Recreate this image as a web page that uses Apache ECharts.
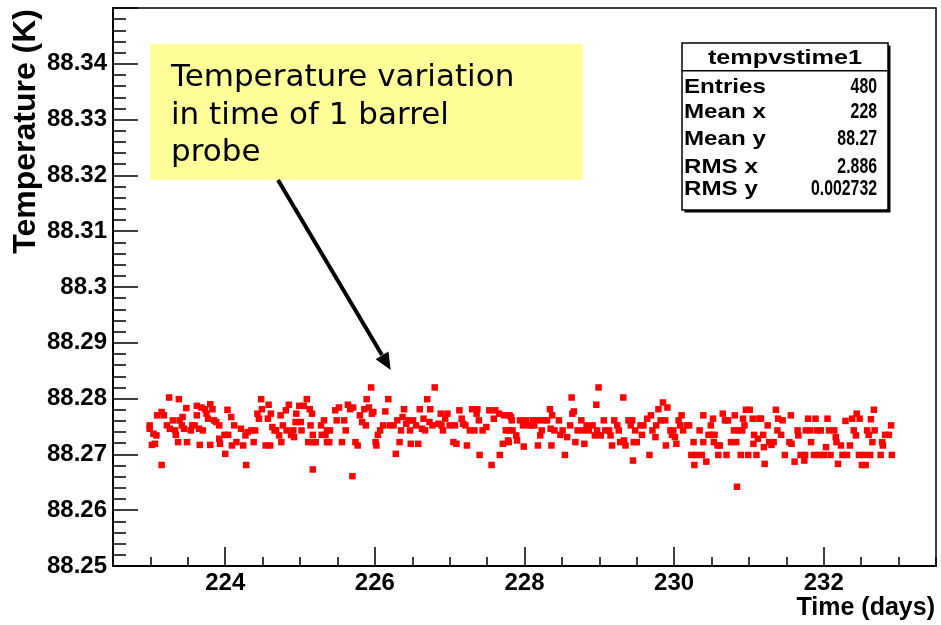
<!DOCTYPE html>
<html>
<head>
<meta charset="utf-8">
<title>tempvstime1</title>
<script src="https://cdn.jsdelivr.net/npm/echarts@6/dist/echarts.min.js"></script>
<style>
html,body{margin:0;padding:0;background:#fff;}
#chart{width:941px;height:625px;}
</style>
</head>
<body>
<div id="chart"></div>
<script>
// x labels / stats box text
var xLabelDays = [224, 226, 228, 230, 232];
var statsTitle = 'tempvstime1';
var statsNames = ['Entries', 'Mean x', 'Mean y', 'RMS x', 'RMS y'];
var statsValues = ['480', '228', '88.27', '2.886', '0.002732'];
var noteLines = ['Temperature variation', 'in time of 1 barrel', 'probe'];

// [time (days), temperature (K)], 4 pieces left to right
var pts223 = [
	[222.99,88.2752],[222.99,88.2746],[223.02,88.2717],[223.04,88.2737],[223.06,88.2719],[223.08,88.2734],
	[223.09,88.2770],[223.15,88.2776],[223.15,88.2681],[223.18,88.2770],[223.22,88.2752],[223.25,88.2802],
	[223.26,88.2746],[223.30,88.2761],[223.33,88.2743],[223.34,88.2735],[223.37,88.2722],[223.38,88.2799],
	[223.39,88.2761],[223.42,88.2752],[223.43,88.2767],[223.45,88.2746],[223.48,88.2783],[223.49,88.2722],
	[223.54,88.2743],[223.56,88.2752],[223.59,88.2752],[223.62,88.2787],[223.62,88.2770],[223.65,88.2746],
	[223.66,88.2717],[223.68,88.2784],[223.70,88.2743],[223.73,88.2781],[223.75,88.2773],[223.77,88.2764],
	[223.80,88.2790],[223.80,88.2717],[223.83,88.2781],[223.85,88.2761],[223.88,88.2758],[223.92,88.2752],
	[223.92,88.2728],[223.93,88.2719],[223.99,88.2735],[224.00,88.2701],[224.03,88.2780],[224.04,88.2735],
	[224.08,88.2767],[224.09,88.2716],[224.12,88.2752],[224.15,88.2722],[224.21,88.2746],[224.24,88.2716],
	[224.27,88.2734],[224.28,88.2681],[224.30,88.2740],[224.35,88.2743],[224.38,88.2722],[224.40,88.2743],
	[224.43,88.2773],[224.45,88.2764],[224.48,88.2799],[224.49,88.2781],[224.54,88.2716],[224.57,88.2764],
	[224.58,88.2789],[224.60,88.2716],[224.61,88.2773],[224.63,88.2749],[224.66,88.2743],[224.68,88.2743],
	[224.72,88.2734],[224.74,88.2770],[224.75,88.2722],[224.77,88.2752],[224.81,88.2779],[224.82,88.2743],
	[224.85,88.2789],[224.88,88.2735],[224.91,88.2743],[224.92,88.2731],[224.94,88.2758],[224.95,88.2773],
	[224.99,88.2787],[225.01,88.2758],[225.02,88.2743],[225.05,88.2787],[225.09,88.2799],[225.11,88.2722],
	[225.13,88.2781],[225.14,88.2752],[225.16,88.2773],[225.17,88.2735],[225.18,88.2722],[225.17,88.2673],
	[225.21,88.2722],[225.28,88.2752],[225.29,88.2735],[225.32,88.2761],[225.34,88.2735],[225.36,88.2722]
];
var pts225 = [
	[225.36,88.2743],[225.40,88.2743],[225.39,88.2722],[225.47,88.2779],[225.49,88.2761],[225.52,88.2784],
	[225.56,88.2722],[225.59,88.2761],[225.61,88.2743],[225.64,88.2789],[225.67,88.2781],[225.71,88.2784],
	[225.70,88.2661],[225.74,88.2722],[225.77,88.2716],[225.80,88.2770],[225.83,88.2758],[225.86,88.2781],
	[225.89,88.2799],[225.88,88.2752],[225.92,88.2784],[225.95,88.2820],[225.96,88.2773],[225.98,88.2776],
	[226.01,88.2722],[226.02,88.2716],[226.04,88.2735],[226.07,88.2743],[226.11,88.2752],[226.14,88.2777],
	[226.18,88.2799],[226.20,88.2752],[226.25,88.2752],[226.28,88.2701],[226.30,88.2761],[226.33,88.2722],
	[226.35,88.2743],[226.37,88.2767],[226.39,88.2781],[226.42,88.2755],[226.45,88.2761],[226.48,88.2719],
	[226.47,88.2743],[226.51,88.2761],[226.55,88.2752],[226.58,88.2719],[226.60,88.2781],[226.63,88.2746],
	[226.65,88.2764],[226.67,88.2743],[226.70,88.2799],[226.73,88.2758],[226.74,88.2781],[226.77,88.2752],
	[226.80,88.2820],[226.85,88.2755],[226.88,88.2773],[226.89,88.2752],[226.91,88.2743],[226.94,88.2764],
	[226.97,88.2773],[227.00,88.2752],[227.05,88.2722],[227.07,88.2752],[227.09,88.2719],[227.13,88.2779],
	[227.16,88.2764],[227.18,88.2755],[227.21,88.2752],[227.23,88.2716],[227.27,88.2743],[227.30,88.2781],
	[227.33,88.2743],[227.36,88.2773],[227.37,88.2781],[227.39,88.2761],[227.40,88.2699],[227.44,88.2743],
	[227.49,88.2749],[227.53,88.2779],[227.56,88.2681],[227.59,88.2764],[227.61,88.2779],[227.66,88.2773],
	[227.67,88.2699],[227.71,88.2719],[227.73,88.2770],[227.75,88.2743],[227.78,88.2725],[227.80,88.2743],
	[227.82,88.2767]
];
var pts228 = [
	[227.80,88.2770],[227.79,88.2722],[227.83,88.2761],[227.84,88.2743],[227.89,88.2734],[227.90,88.2725],
	[227.94,88.2761],[227.98,88.2752],[227.99,88.2714],[228.02,88.2761],[228.05,88.2752],[228.09,88.2752],
	[228.11,88.2761],[228.13,88.2752],[228.17,88.2761],[228.18,88.2716],[228.21,88.2734],[228.23,88.2743],
	[228.25,88.2761],[228.30,88.2761],[228.34,88.2781],[228.35,88.2746],[228.36,88.2716],[228.37,88.2770],
	[228.40,88.2743],[228.46,88.2761],[228.48,88.2735],[228.51,88.2743],[228.54,88.2699],[228.57,88.2731],
	[228.61,88.2752],[228.63,88.2802],[228.64,88.2773],[228.66,88.2777],[228.68,88.2722],[228.71,88.2743],
	[228.76,88.2761],[228.79,88.2743],[228.80,88.2719],[228.83,88.2752],[228.86,88.2743],[228.91,88.2752],
	[228.94,88.2734],[228.96,88.2789],[228.97,88.2743],[228.99,88.2820],[229.02,88.2734],[229.06,88.2761],
	[229.08,88.2743],[229.13,88.2743],[229.15,88.2734],[229.17,88.2716],[229.20,88.2761],[229.24,88.2752],
	[229.26,88.2743],[229.28,88.2722],[229.32,88.2802],[229.33,88.2725],[229.35,88.2716],[229.39,88.2761],
	[229.42,88.2752],[229.44,88.2761],[229.46,88.2722],[229.45,88.2689],[229.48,88.2743],[229.50,88.2722],
	[229.55,88.2752],[229.57,88.2735],[229.59,88.2752],[229.64,88.2764],[229.67,88.2699],[229.69,88.2770],
	[229.71,88.2743],[229.75,88.2731],[229.76,88.2752],[229.79,88.2781],[229.82,88.2761],[229.85,88.2793],
	[229.88,88.2761],[229.89,88.2716],[229.91,88.2784],[229.95,88.2743],[229.97,88.2735],[229.99,88.2743],
	[230.01,88.2731],[230.03,88.2719],[230.06,88.2761],[230.08,88.2752],[230.10,88.2770],[230.12,88.2743],
	[230.17,88.2752],[230.20,88.2752],[230.23,88.2699],[230.26,88.2722],[230.27,88.2681],[230.30,88.2699],
	[230.34,88.2743],[230.37,88.2699],[230.39,88.2722]
];
var pts230 = [
	[230.39,88.2770],[230.43,88.2687],[230.46,88.2735],[230.49,88.2752],[230.50,88.2735],[230.52,88.2764],
	[230.53,88.2722],[230.54,88.2735],[230.58,88.2716],[230.59,88.2699],[230.61,88.2716],[230.65,88.2773],
	[230.68,88.2761],[230.70,88.2699],[230.72,88.2761],[230.76,88.2722],[230.81,88.2770],[230.80,88.2743],
	[230.83,88.2722],[230.84,88.2642],[230.86,88.2743],[230.89,88.2699],[230.91,88.2743],[230.92,88.2764],
	[230.94,88.2752],[230.96,88.2780],[230.99,88.2699],[231.01,88.2780],[231.05,88.2764],[231.06,88.2719],
	[231.07,88.2735],[231.10,88.2699],[231.12,88.2728],[231.14,88.2764],[231.16,88.2764],[231.19,88.2735],
	[231.21,88.2683],[231.20,88.2713],[231.25,88.2752],[231.27,88.2722],[231.30,88.2717],[231.33,88.2722],
	[231.36,88.2780],[231.38,88.2743],[231.39,88.2764],[231.43,88.2735],[231.45,88.2761],[231.48,88.2699],
	[231.54,88.2722],[231.56,88.2770],[231.57,88.2719],[231.61,88.2687],[231.65,88.2743],[231.66,88.2734],
	[231.69,88.2699],[231.74,88.2689],[231.75,88.2699],[231.76,88.2743],[231.79,88.2764],[231.83,88.2722],
	[231.82,88.2743],[231.87,88.2699],[231.89,88.2764],[231.91,88.2743],[231.94,88.2699],[231.96,88.2743],
	[232.00,88.2699],[232.03,88.2713],[232.05,88.2764],[232.07,88.2743],[232.09,88.2699],[232.14,88.2743],
	[232.16,88.2731],[232.17,88.2722],[232.19,88.2683],[232.23,88.2716],[232.25,88.2699],[232.29,88.2760],
	[232.31,88.2699],[232.35,88.2716],[232.38,88.2764],[232.40,88.2743],[232.43,88.2734],[232.44,88.2773],
	[232.47,88.2699],[232.48,88.2764],[232.51,88.2681],[232.54,88.2699],[232.56,88.2681],[232.58,88.2743],
	[232.60,88.2735],[232.62,88.2699],[232.63,88.2763],[232.65,88.2722],[232.67,88.2780],[232.68,88.2743],
	[232.76,88.2699],[232.78,88.2722],[232.79,88.2716],[232.82,88.2735],[232.87,88.2735],[232.90,88.2752],
	[232.91,88.2699]
];

var FONT = 'Liberation Sans, Arial, sans-serif';

function buildGraphic(){
	var g = [];
	// yellow note + arrow
	g.push({type:'rect', shape:{x:150, y:44, width:433, height:136}, style:{fill:'#ffff99'}, z:10});
	var noteY = [78, 115.5, 153];
	for (var i = 0; i < noteLines.length; i++) {
		g.push({type:'text', x:171, y:noteY[i], z:11,
			style:{text:noteLines[i], fill:'#000', font:'31px "DejaVu Sans", Verdana, sans-serif', textAlign:'left', textVerticalAlign:'middle'}});
	}
	g.push({type:'line', shape:{x1:278, y1:180, x2:382, y2:355}, style:{stroke:'#000', lineWidth:4}, z:10});
	g.push({type:'polygon', shape:{points:[[390.7,370],[375.6,359.2],[388.5,351.6]]}, style:{fill:'#000'}, z:10});

	// stats box
	g.push({type:'rect', shape:{x:684.5, y:45.5, width:206, height:167}, style:{fill:'#000'}, z:10});
	g.push({type:'rect', shape:{x:682, y:43, width:206, height:167}, style:{fill:'#fff', stroke:'#000', lineWidth:1.5}, z:11});
	g.push({type:'line', shape:{x1:682, y1:70.7, x2:888, y2:70.7}, style:{stroke:'#000', lineWidth:1.5}, z:12});
	g.push({type:'text', x:785, y:58, scaleX:1.2, z:12,
		style:{text:statsTitle, fill:'#000', font:'bold 21px ' + FONT, textAlign:'center', textVerticalAlign:'middle'}});
	var rowY = [87, 112, 139, 167, 189];
	for (var j = 0; j < statsNames.length; j++) {
		g.push({type:'text', x:684, y:rowY[j], scaleX:1.15, z:12,
			style:{text:statsNames[j], fill:'#000', font:'bold 21px ' + FONT, textAlign:'left', textVerticalAlign:'middle'}});
		g.push({type:'text', x:877, y:rowY[j], scaleX:0.72, z:12,
			style:{text:statsValues[j], fill:'#000', font:'bold 22px ' + FONT, textAlign:'right', textVerticalAlign:'middle'}});
	}

	// axis titles
	g.push({type:'text', x:26, y:9, rotation:Math.PI/2, z:12,
		style:{text:'Temperature (K)', fill:'#000', font:'bold 32px ' + FONT, textAlign:'right', textVerticalAlign:'middle'}});
	g.push({type:'text', x:935, y:608, z:12,
		style:{text:'Time (days)', fill:'#000', font:'bold 25px ' + FONT, textAlign:'right', textVerticalAlign:'middle'}});
	return g;
}

function initChart(){
	var chart = echarts.init(document.getElementById('chart'), null, {renderer:'canvas'});
	var allPts = pts223.concat(pts225, pts228, pts230);
	var option = {
		animation: false,
		backgroundColor: '#fff',
		grid: {left:113, top:8, width:823, height:558, show:true, borderColor:'#000', borderWidth:1.5, backgroundColor:'transparent'},
		xAxis: [
			{
				type:'value', min:222.5, max:233.5, interval:0.5,
				axisLine:{show:true, onZero:false, lineStyle:{color:'#000', width:2}},
				axisTick:{show:true, inside:true, length:9, lineStyle:{color:'#000', width:1.5}},
				splitLine:{show:false},
				axisLabel:{color:'#000', fontSize:24, fontWeight:'bold', fontFamily:FONT, margin:5,
					formatter:function(v){ return xLabelDays.indexOf(v) >= 0 ? String(v) : ''; }}
			},
			{
				type:'value', min:222.5, max:233.5, interval:0.5, position:'bottom', gridIndex:0,
				axisLine:{show:false, onZero:false},
				axisTick:{show:true, inside:true, length:19, customValues:xLabelDays, lineStyle:{color:'#000', width:1.5}},
				splitLine:{show:false},
				axisLabel:{show:false}
			}
		],
		yAxis: {
			type:'value', min:88.25, max:88.35, interval:0.01,
			axisLine:{show:true, onZero:false, lineStyle:{color:'#000', width:2}},
			axisTick:{show:true, inside:true, length:25, lineStyle:{color:'#000', width:1.5}},
			minorTick:{show:true, splitNumber:5, length:13, lineStyle:{color:'#000', width:1.5}},
			splitLine:{show:false},
			axisLabel:{showMaxLabel:false, color:'#000', fontSize:24, fontWeight:'bold', fontFamily:FONT, margin:6,
				formatter:function(v){ return String(+v.toFixed(2)); }}
		},
		series: [{
			type:'scatter',
			xAxisIndex:0,
			symbol:'rect',
			symbolSize:6.5,
			itemStyle:{color:'#ff0000', opacity:1},
			data: allPts
		}],
		graphic: buildGraphic()
	};
	chart.setOption(option);
}

initChart();
</script>
</body>
</html>
